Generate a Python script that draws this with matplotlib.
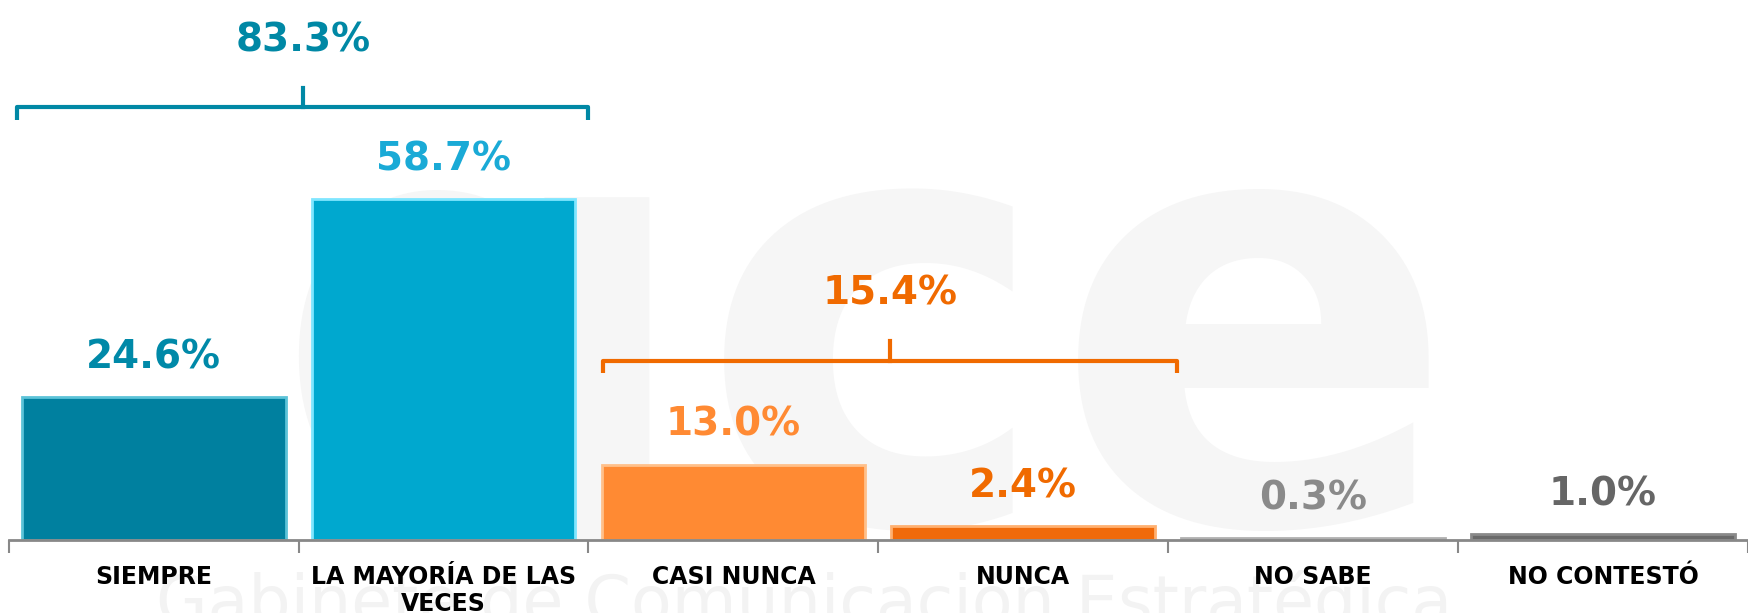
import matplotlib.pyplot as plt
import numpy as np

categories = ['SIEMPRE', 'LA MAYORÍA DE LAS\nVECES', 'CASI NUNCA', 'NUNCA', 'NO SABE', 'NO CONTESTÓ']
values = [24.6, 58.7, 13.0, 2.4, 0.3, 1.0]
bar_colors = ['#00809f', '#00a8cf', '#ff8a33', '#f06a0a', '#8c8c8c', '#6a6a6a']
edge_colors = ['#5cc3d8', '#7fe6ff', '#ffc08a', '#ffb070', '#b0b0b0', '#8a8a8a']
label_colors = ['#0089a8', '#1aaad6', '#ff8a33', '#f06a00', '#8a8a8a', '#666666']

group_totals = [83.3, 15.4]
group_spans = [(-0.47, 1.5), (1.55, 3.53)]
group_levels = [74.5, 30.9]
group_colors = ['#0088a5', '#f06a00']

fig = plt.figure(figsize=(17.48, 6.13), dpi=100)
ax = fig.add_axes([0.005, 0.119, 0.995, 0.881])

# faint watermark, drawn behind everything
ax.text(2.45, 3, 'gce', fontsize=430, fontweight='bold', color='#f6f6f6',
        ha='center', va='baseline', zorder=0, clip_on=True)
fig.text(0.46, -0.04, 'Gabinete de Comunicación Estratégica', fontsize=48,
         color='#f3f3f3', ha='center', va='bottom', zorder=-5)

x = np.arange(len(categories))
ax.bar(x, values, width=0.91, color=bar_colors, edgecolor=edge_colors,
       linewidth=2, zorder=2)

for i, v in enumerate(values):
    ax.text(i, v + 3.6, f'{v:.1f}%', ha='center', va='bottom', fontsize=28,
            fontweight='bold', color=label_colors[i], zorder=3)

for tot, (x0, x1), lvl, col in zip(group_totals, group_spans, group_levels, group_colors):
    xm = (x0 + x1) / 2
    ax.plot([x0, x0, x1, x1], [lvl - 2.2, lvl, lvl, lvl - 2.2], color=col, lw=3,
            solid_joinstyle='round', solid_capstyle='butt', zorder=3)
    ax.plot([xm, xm], [lvl, lvl + 3.4], color=col, lw=3, zorder=3)
    ax.text(xm, lvl + 11.5, f'{tot:.1f}%', ha='center', va='center', fontsize=28,
            fontweight='bold', color=col, zorder=3)

ax.set_xlim(-0.5, 5.5)
ax.set_ylim(0, 93)
ax.set_xticks(x)
ax.set_xticklabels(categories, fontsize=17, fontweight='bold', linespacing=1.15)
ax.tick_params(axis='x', which='major', length=0, pad=18)
ax.set_xticks(np.arange(-0.5, 6.0, 1.0), minor=True)
ax.tick_params(axis='x', which='minor', length=9, width=1.5, color='#888888')
ax.set_yticks([])
for s in ['top', 'right', 'left']:
    ax.spines[s].set_visible(False)
ax.spines['bottom'].set_color('#888888')
ax.spines['bottom'].set_linewidth(2)
ax.patch.set_alpha(0)

fig.savefig('out.png', dpi=100)
